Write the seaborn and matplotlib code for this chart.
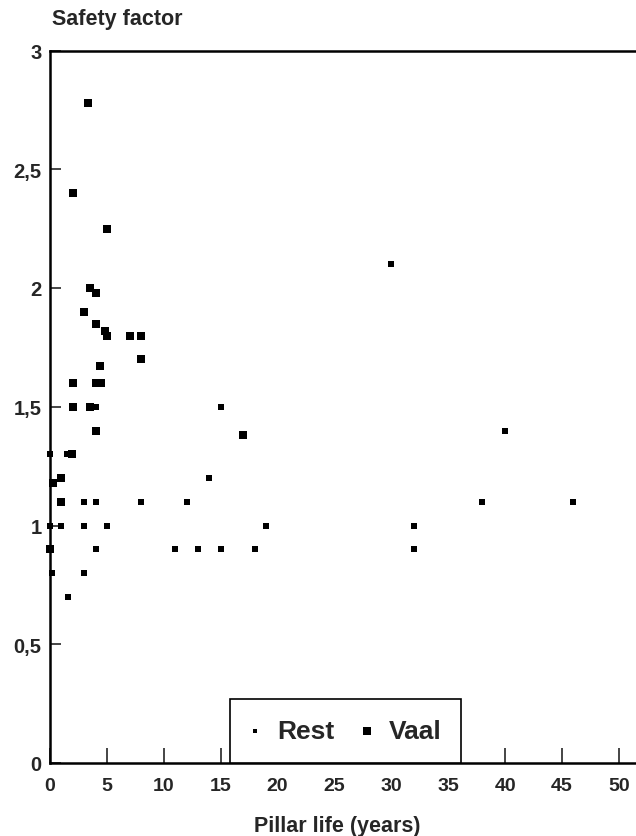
import matplotlib
matplotlib.use("Agg")
import matplotlib.pyplot as plt
import seaborn as sns
import pandas as pd

# ---- data ----
rest_x = [0, 1.5, 3, 4, 8, 0, 1, 3, 5, 4, 11, 0.2, 3, 1.6, 4, 15, 14, 12, 19,
          13, 15, 18, 30, 40, 38, 46, 32, 32]
rest_y = [1.3, 1.3, 1.1, 1.1, 1.1, 1.0, 1.0, 1.0, 1.0, 0.9, 0.9, 0.8, 0.8, 0.7,
          1.5, 1.5, 1.2, 1.1, 1.0, 0.9, 0.9, 0.9, 2.1, 1.4, 1.1, 1.1, 1.0, 0.9]

vaal_x = [3.3, 2, 5, 3.5, 4, 3, 4, 4.8, 5, 7, 8, 8, 4.4, 2, 4, 4.5, 2, 3.5, 4,
          1.9, 1, 0.3, 1, 0, 17]
vaal_y = [2.78, 2.4, 2.25, 2.0, 1.98, 1.9, 1.85, 1.82, 1.8, 1.8, 1.8, 1.7, 1.67,
          1.6, 1.6, 1.6, 1.5, 1.5, 1.4, 1.3, 1.2, 1.18, 1.1, 0.9, 1.38]

x_ticks = [0, 5, 10, 15, 20, 25, 30, 35, 40, 45, 50]
y_ticks = [0, 0.5, 1, 1.5, 2, 2.5, 3]
y_tick_labels = ["0", "0,5", "1", "1,5", "2", "2,5", "3"]

rest = pd.DataFrame({"x": rest_x, "y": rest_y})
vaal = pd.DataFrame({"x": vaal_x, "y": vaal_y})

sns.set_style("white")
plt.rcParams["font.family"] = ["Liberation Sans", "DejaVu Sans"]

W, H = 636, 837
fig = plt.figure(figsize=(W / 100, H / 100), dpi=100)
ax = fig.add_axes([50 / W, 1 - 764 / H, (W - 50) / W, (764 - 51.5) / H])

sns.scatterplot(data=rest, x="x", y="y", ax=ax, marker="s", color="black",
                s=16, linewidth=0, label="Rest", zorder=3, clip_on=False)
sns.scatterplot(data=vaal, x="x", y="y", ax=ax, marker="s", color="black",
                s=40, linewidth=0, label="Vaal", zorder=3, clip_on=False)

ax.set_xlim(0, 51.5)
ax.set_ylim(0, 3)
ax.set_xticks(x_ticks)
ax.set_xticklabels([str(t) for t in x_ticks], fontsize=14, fontweight="bold")
ax.set_yticks(y_ticks)
ax.set_yticklabels(y_tick_labels, fontsize=14.5, fontweight="bold")
ax.tick_params(axis="x", direction="in", length=11, width=1.2, pad=10,
               bottom=True, top=False)
ax.tick_params(axis="y", direction="in", length=8, width=1.2, pad=6,
               left=True, right=False)

for side in ["left", "bottom", "top"]:
    ax.spines[side].set_visible(True)
    ax.spines[side].set_color("black")
    ax.spines[side].set_linewidth(1.8)
ax.spines["right"].set_visible(False)

ax.set_xlabel("")
ax.set_ylabel("")
fig.text(337 / W, 1 - 827 / H, "Pillar life (years)", ha="center", va="center",
         fontsize=15.5, fontweight="bold")
fig.text(52 / W, 1 - 20 / H, "Safety factor", ha="left", va="center",
         fontsize=15.5, fontweight="bold")

leg = ax.legend(loc="lower center", bbox_to_anchor=(0.504, 0.0), ncol=2,
                frameon=True, fancybox=False, shadow=False,
                prop={"weight": "bold", "size": 19},
                borderpad=0.75, handlelength=0.45, handletextpad=0.6,
                columnspacing=1.0, borderaxespad=0)
leg.get_frame().set_edgecolor("black")
leg.get_frame().set_linewidth(1.2)
leg.get_frame().set_alpha(1)
leg.legend_handles[0].set_sizes([12])
leg.legend_handles[1].set_sizes([28])

fig.savefig("out.png", dpi=100)
